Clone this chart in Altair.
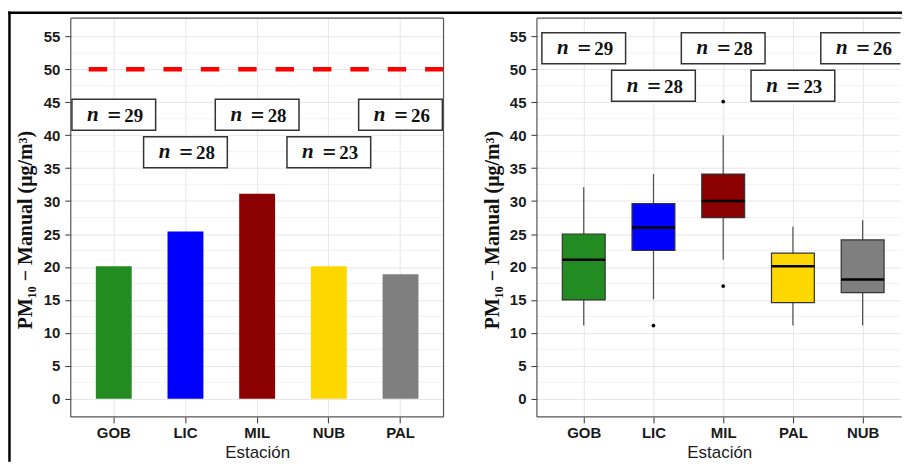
import json

import altair as alt
import pandas as pd

# ---- mean PM10 per station (bar panel) ----
bar_stations = ["GOB", "LIC", "MIL", "NUB", "PAL"]
bar_means = [20.1, 25.4, 31.1, 20.1, 18.9]
bar_n = [29, 28, 28, 23, 26]
bar_label_y = [43.1, 37.4, 43.1, 37.4, 43.1]

# ---- distribution per station (box panel) ----
box_stations = ["GOB", "LIC", "MIL", "PAL", "NUB"]
box_low = [11.1, 15.1, 21.1, 11.1, 11.1]
box_q1 = [15.0, 22.5, 27.5, 14.6, 16.1]
box_median = [21.1, 26.0, 30.0, 20.1, 18.1]
box_q3 = [25.0, 29.6, 34.1, 22.1, 24.1]
box_high = [32.1, 34.1, 40.0, 26.1, 27.1]
box_n = [29, 28, 28, 23, 26]
box_label_y = [53.2, 47.5, 53.2, 47.5, 53.2]
outlier_station = ["LIC", "MIL", "MIL"]
outlier_value = [11.1, 45.1, 17.1]

limit_value = [50]
palette = ["#228B22", "#0000FF", "#8B0000", "#FFD700", "#7F7F7F"]
y_major = [0, 5, 10, 15, 20, 25, 30, 35, 40, 45, 50, 55]
y_minor = [2.5, 7.5, 12.5, 17.5, 22.5, 27.5, 32.5, 37.5, 42.5, 47.5, 52.5]

H = 400
W_LEFT = 374
W_RIGHT = 366                # right panel is cut by the page edge
STEP = W_LEFT / 5.2          # category spacing shared by both panels
BORDER = "#555555"
MAJOR_GRID = "#e6e6e6"
MINOR_GRID = "#f2f2f2"
Y_TITLE = "PM\u2081\u2080  \u2212  Manual (\u03bcg/m\u00b3)"

bar_df = pd.DataFrame({"station": bar_stations, "mean": bar_means,
                       "n": [str(v) for v in bar_n], "label_y": bar_label_y})
box_df = pd.DataFrame({"station": box_stations, "low": box_low, "q1": box_q1,
                       "median": box_median, "q3": box_q3, "high": box_high,
                       "n": [str(v) for v in box_n], "label_y": box_label_y})
out_df = pd.DataFrame({"station": outlier_station, "value": outlier_value})
limit_df = pd.DataFrame({"limit": limit_value})
minor_df = pd.DataFrame({"minor": y_minor})
one_row = pd.DataFrame({"k": [0]})

y_scale = alt.Scale(domain=[-2.75, 57.75], nice=False, zero=False)
Y_AXIS = alt.Axis(
    title=Y_TITLE, values=y_major, labelOverlap=False,
    labelFont="Liberation Sans", labelFontWeight="bold", labelFontSize=15,
    labelColor="#1a1a1a", labelPadding=5,
    tickSize=6, tickColor="#333333",
    grid=True, gridColor=MAJOR_GRID, domain=False,
    titleFont="Liberation Serif", titleFontWeight="bold", titleFontSize=20,
    titleColor="#111111", titleX=-45, titleY=212, titleBaseline="middle",
    titleAlign="center", titleAngle=270,
)


def y_enc(field):
    """Every layer carries the same scale and axis so they merge cleanly."""
    return alt.Y(field, scale=y_scale, axis=Y_AXIS)


AXIS_X_STYLE = dict(
    title="Estaci\u00f3n", labelAngle=0,
    labelFont="Liberation Sans", labelFontWeight="bold", labelFontSize=15,
    labelColor="#1a1a1a", labelPadding=3,
    tickSize=6, tickColor="#333333", domain=False,
    grid=True, gridColor=MAJOR_GRID,
    titleFont="Liberation Sans", titleFontWeight="normal", titleFontSize=17,
    titleColor="#1a1a1a", titlePadding=4,
)


def n_labels(base, clip=False):
    """Boxed 'n = ..' annotations above each station."""
    box = base.mark_point(
        shape="M-1,-0.369L1,-0.369L1,0.369L-1,0.369Z", size=7056,
        filled=True, fill="white", stroke="#333333", strokeWidth=1.5,
        opacity=1, clip=clip,
    ).encode(y=y_enc("label_y:Q"))
    n_txt = base.mark_text(text="n", font="Liberation Serif", fontStyle="italic",
                           fontWeight="bold", fontSize=21, dx=-21, dy=0,
                           color="#111111", clip=clip).encode(y=y_enc("label_y:Q"))
    eq_txt = base.mark_text(text="=", font="Liberation Serif", fontWeight="bold",
                            fontSize=24, dx=0.5, dy=1, color="#111111",
                            clip=clip).encode(y=y_enc("label_y:Q"))
    num_txt = base.mark_text(font="Liberation Serif", fontWeight="bold",
                             fontSize=19, dx=20, dy=1, color="#111111",
                             clip=clip).encode(y=y_enc("label_y:Q"), text="n:N")
    return [box, n_txt, eq_txt, num_txt]


def minor_grid():
    return alt.Chart(minor_df).mark_rule(color=MINOR_GRID, strokeWidth=1).encode(
        y=y_enc("minor:Q"))


def border(x, x2, y, y2=None, color=BORDER, width=1.2):
    enc = dict(x=alt.value(x), y=alt.value(y))
    if x2 is not None:
        enc["x2"] = alt.value(x2)
    if y2 is not None:
        enc["y2"] = alt.value(y2)
    return alt.Chart(one_row).mark_rule(color=color, strokeWidth=width).encode(**enc)


# ---------------- left: bar chart ----------------
x_left = alt.X("station:N", sort=bar_stations,
               scale=alt.Scale(paddingInner=0, paddingOuter=0.1),
               axis=alt.Axis(**AXIS_X_STYLE))
bar_base = alt.Chart(bar_df).encode(x=x_left)

bars = bar_base.mark_bar(size=36).encode(
    y=y_enc("mean:Q"),
    color=alt.Color("station:N", scale=alt.Scale(domain=bar_stations, range=palette),
                    legend=None),
)
limit_rule = alt.Chart(limit_df).mark_rule(
    color="#FF0000", strokeWidth=4.5, strokeDash=[18.5, 19]
).encode(y=y_enc("limit:Q"))

frame_left = alt.Chart(one_row).mark_rule(color="black", strokeWidth=2.5).encode(
    x=alt.value(-61.5), y=alt.value(-6.75), y2=alt.value(445))
frame_top = alt.Chart(one_row).mark_rule(color="black", strokeWidth=2.5).encode(
    x=alt.value(-62.75), x2=alt.value(834), y=alt.value(-5.5))

left = alt.layer(
    minor_grid(), bars, limit_rule, *n_labels(bar_base),
    border(0, W_LEFT, 0), border(0, W_LEFT, H), border(0, None, 0, H),
    border(W_LEFT, None, 0, H),
    frame_left, frame_top,
).properties(width=W_LEFT, height=H)

# ---------------- right: box plot ----------------
order_js = json.dumps(box_stations)
pos_expr = f"indexof({order_js}, datum.station)"
x_right = alt.X(
    "pos:Q",
    scale=alt.Scale(domain=[-0.6, -0.6 + W_RIGHT / STEP], nice=False, zero=False),
    axis=alt.Axis(values=list(range(len(box_stations))),
                  labelExpr=f"{order_js}[datum.value]", **AXIS_X_STYLE),
)
box_base = alt.Chart(box_df).transform_calculate(pos=pos_expr).encode(x=x_right)

whiskers = box_base.mark_rule(color="#4d4d4d", strokeWidth=1.2).encode(
    y=y_enc("low:Q"), y2="high:Q")
boxes = box_base.mark_bar(size=43, stroke="#333333", strokeWidth=1.2).encode(
    y=y_enc("q1:Q"), y2="q3:Q",
    color=alt.Color("station:N", scale=alt.Scale(domain=box_stations, range=palette),
                    legend=None),
)
medians = box_base.mark_tick(size=43, thickness=2.5, color="black", opacity=1,
                             orient="horizontal").encode(y=y_enc("median:Q"))
outliers = alt.Chart(out_df).transform_calculate(pos=pos_expr).mark_circle(
    size=14, color="black", opacity=1).encode(x=x_right, y=y_enc("value:Q"))

right = alt.layer(
    minor_grid(), whiskers, boxes, medians, outliers,
    *n_labels(box_base, clip=True),
    # the panel continues past the page edge: its right side stays open
    border(W_RIGHT - 0.5, None, 0.6, H - 0.6, color="white", width=1.6),
    border(0, W_RIGHT, 0), border(0, W_RIGHT, H), border(0, None, 0, H),
).properties(width=W_RIGHT, height=H)

chart = alt.hconcat(left, right, spacing=93.7, bounds="flush").properties(
    padding={"left": 7, "top": 9.5, "right": 0, "bottom": 0},
    background="white",
).resolve_scale(x="independent", y="independent", color="independent"
).configure_view(stroke="transparent", strokeWidth=0, strokeOpacity=0)

chart.save("out.html", embed_options={"renderer": "svg", "actions": False})
